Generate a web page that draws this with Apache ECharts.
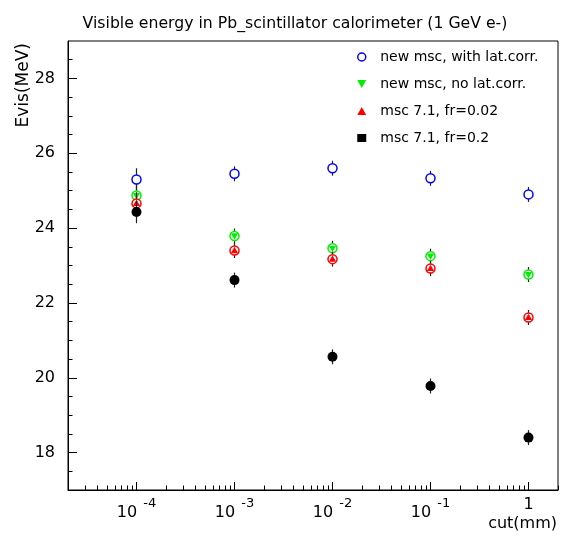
<!DOCTYPE html>
<html lang="en" style="height: 100%">
<head>
<meta charset="utf-8">
<title>Visible energy in Pb_scintillator calorimeter</title>
</head>
<body style="height: 100%; margin: 0; background: #fff">
<div id="container" style="width: 563px; height: 536px"></div>

<script type="text/javascript" src="https://cdn.jsdelivr.net/npm/echarts/dist/echarts.min.js"></script>

<script type="text/javascript">

// cut values (mm) and visible energy (MeV)
const cuts = [1e-4, 1e-3, 1e-2, 1e-1, 1];
const evisLatCorr   = [25.30, 25.45, 25.60, 25.33, 24.90];
const evisNoLatCorr = [24.87, 23.79, 23.46, 23.25, 22.76];
const evisFr002     = [24.66, 23.40, 23.17, 22.92, 21.61];
const evisFr02      = [24.43, 22.61, 20.56, 19.78, 18.40];
const errLatCorr    = [0.30, 0.20, 0.20, 0.20, 0.20];
const errNoLatCorr  = [0.30, 0.20, 0.20, 0.20, 0.20];
const errFr002      = [0.30, 0.20, 0.20, 0.20, 0.20];
const errFr02       = [0.30, 0.20, 0.20, 0.20, 0.20];

const seriesNames = [
    'new msc, with lat.corr.',
    'new msc, no lat.corr.',
    'msc 7.1, fr=0.02',
    'msc 7.1, fr=0.2'
];

// axis ticks
const xMajorTicks = [1e-4, 1e-3, 1e-2, 1e-1, 1];
const yMajorTicks = [18, 20, 22, 24, 26, 28];
const xMinorTicks = [];
for (let d = -5; d <= 0; d++) {
    for (let k = 2; k <= 9; k++) {
        const v = k * Math.pow(10, d);
        if (v >= 2e-5 && v <= 2) xMinorTicks.push(v);
    }
}
const yMinorTicks = [];
for (let v = 17.5; v < 29; v += 0.5) yMinorTicks.push(v);

const FONT = 'DejaVu Sans';

var dom = document.getElementById('container');
var myChart = echarts.init(dom, null, {width: 563, height: 536});

function renderPoint(kind, color) {
    return function (params, api) {
        const x = api.value(0), y = api.value(1), e = api.value(2);
        const p = api.coord([x, y]);
        const hi = api.coord([x, y + e]);
        const lo = api.coord([x, y - e]);
        const children = [{
            type: 'line',
            shape: {x1: p[0], y1: hi[1], x2: p[0], y2: lo[1]},
            style: {stroke: '#222', lineWidth: 1.2}
        }];
        const r = 4.5;
        if (kind === 'open') {
            children.push({type: 'circle', shape: {cx: p[0], cy: p[1], r: r},
                style: {fill: '#fff', stroke: color, lineWidth: 1.5}});
        } else if (kind === 'down' || kind === 'up') {
            children.push({type: 'circle', shape: {cx: p[0], cy: p[1], r: r},
                style: {fill: '#fff', stroke: color, lineWidth: 1.5}});
            const s = kind === 'down' ? 1 : -1;
            children.push({type: 'polygon', shape: {points: [
                [p[0] - 3.6, p[1] - s * 2.6], [p[0] + 3.6, p[1] - s * 2.6], [p[0], p[1] + s * 3.8]
            ]}, style: {fill: color}});
        } else {
            children.push({type: 'circle', shape: {cx: p[0], cy: p[1], r: 5},
                style: {fill: color}});
        }
        return {type: 'group', children: children};
    };
}

function makeSeries(name, ys, errs, kind, color) {
    return {
        name: name,
        type: 'custom',
        xAxisIndex: 0,
        yAxisIndex: 0,
        itemStyle: {color: color},
        renderItem: renderPoint(kind, color),
        encode: {x: 0, y: 1},
        data: cuts.map(function (c, i) { return [c, ys[i], errs[i]]; }),
        z: 5
    };
}

function xLabel(v) {
    const e = Math.round(Math.log10(v));
    if (e === 0) return '{one|1}';
    return '{b|10}{s|' + e + '}';
}

var option = {
    animation: false,
    title: {
        text: 'Visible energy in Pb_scintillator calorimeter (1 GeV e-)',
        left: 290,
        top: 11,
        textAlign: 'center',
        textStyle: {fontFamily: FONT, fontSize: 15.7, fontWeight: 'normal', color: '#000'}
    },
    legend: {
        orient: 'vertical',
        left: 352,
        top: 45,
        itemWidth: 9,
        itemHeight: 8,
        itemGap: 13,
        textStyle: {fontFamily: FONT, fontSize: 14, color: '#000', padding: [0, 0, 0, 9]},
        data: [
            {name: seriesNames[0], icon: 'circle', itemStyle: {color: '#fff', borderColor: '#0000ff', borderWidth: 1.5}},
            {name: seriesNames[1], icon: 'path://M0,0 L10,0 L5,9 Z', itemStyle: {color: '#00ee00'}},
            {name: seriesNames[2], icon: 'path://M5,0 L10,9 L0,9 Z', itemStyle: {color: '#ff0000'}},
            {name: seriesNames[3], icon: 'path://M0,0 L9,0 L9,8 L0,8 Z', itemStyle: {color: '#000'}}
        ]
    },
    grid: {
        left: 68,
        right: 5,
        top: 41,
        bottom: 46,
        show: true,
        borderColor: '#000',
        borderWidth: 1,
        backgroundColor: 'transparent'
    },
    xAxis: [{
        type: 'log',
        logBase: 10,
        min: 2e-5,
        max: 2,
        position: 'bottom',
        axisLine: {show: true, lineStyle: {color: '#000', width: 1}},
        splitLine: {show: false},
        axisTick: {show: true, inside: true, length: 8, customValues: xMajorTicks, lineStyle: {color: '#000'}},
        axisLabel: {
            customValues: xMajorTicks,
            margin: 7,
            formatter: xLabel,
            rich: {
                b: {fontFamily: FONT, fontSize: 16, color: '#000', verticalAlign: 'bottom', lineHeight: 24},
                s: {fontFamily: FONT, fontSize: 13, color: '#000', verticalAlign: 'top', padding: [0, 0, 0, 6], lineHeight: 24},
                one: {fontFamily: FONT, fontSize: 16, color: '#000', verticalAlign: 'top', lineHeight: 24}
            }
        }
    }, {
        type: 'log',
        logBase: 10,
        min: 2e-5,
        max: 2,
        position: 'bottom',
        axisLine: {show: false},
        splitLine: {show: false},
        axisTick: {show: true, inside: true, length: 4.5, customValues: xMinorTicks, lineStyle: {color: '#000'}},
        axisLabel: {show: false}
    }],
    yAxis: [{
        type: 'value',
        min: 17,
        max: 29,
        position: 'left',
        axisLine: {show: true, lineStyle: {color: '#000', width: 1}},
        splitLine: {show: false},
        axisTick: {show: true, inside: true, length: 9, customValues: yMajorTicks, lineStyle: {color: '#000'}},
        axisLabel: {
            customValues: yMajorTicks,
            margin: 13,
            fontFamily: FONT,
            fontSize: 16,
            color: '#000'
        }
    }, {
        type: 'value',
        min: 17,
        max: 29,
        position: 'left',
        axisLine: {show: false},
        splitLine: {show: false},
        axisTick: {show: true, inside: true, length: 4.5, customValues: yMinorTicks, lineStyle: {color: '#000'}},
        axisLabel: {show: false}
    }],
    graphic: [{
        type: 'text',
        right: 6,
        top: 516,
        style: {text: 'cut(mm)', font: '16px "' + FONT + '"', fill: '#000'}
    }, {
        type: 'text',
        left: 15,
        top: 43,
        rotation: Math.PI / 2,
        style: {text: 'Evis(MeV)', font: '17px "' + FONT + '"', fill: '#000'}
    }],
    series: [
        makeSeries(seriesNames[0], evisLatCorr, errLatCorr, 'open', '#0000ff'),
        makeSeries(seriesNames[1], evisNoLatCorr, errNoLatCorr, 'down', '#00ee00'),
        makeSeries(seriesNames[2], evisFr002, errFr002, 'up', '#ff0000'),
        makeSeries(seriesNames[3], evisFr02, errFr02, 'filled', '#000000')
    ]
};

if (option && typeof option === 'object') {
    myChart.setOption(option);
}

window.addEventListener('resize', myChart.resize);
</script>
</body>
</html>
